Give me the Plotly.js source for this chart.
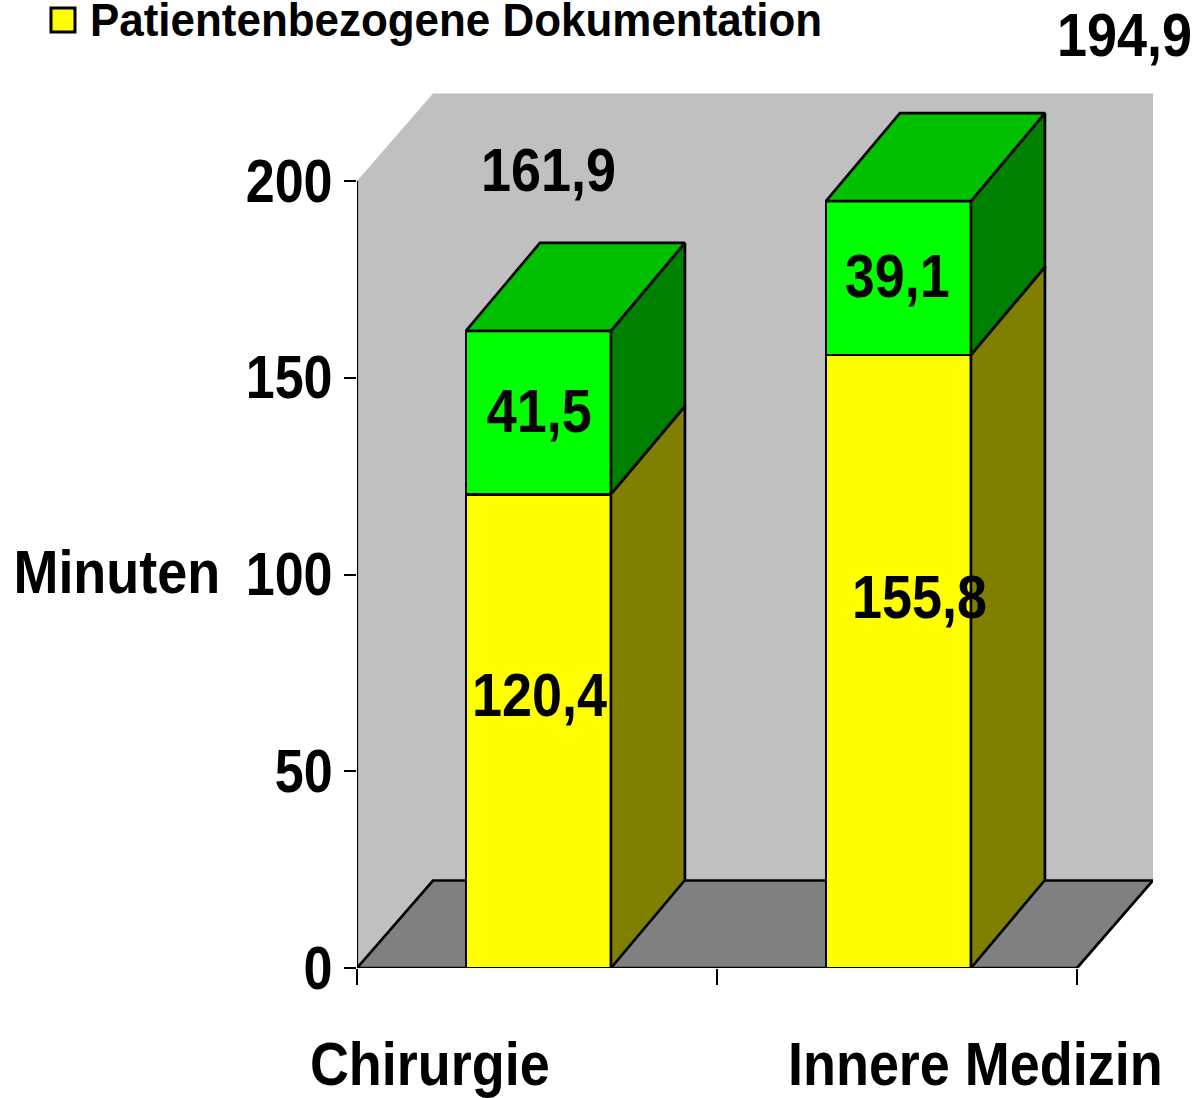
<!DOCTYPE html>
<html><head><meta charset="utf-8">
<script src="https://cdn.plot.ly/plotly-3.0.1.min.js"></script>
<style>html,body{margin:0;padding:0;background:#fff}</style>
</head><body><div id="chart" style="width:1197px;height:1098px"></div>
<script>
const categories = ["Chirurgie", "Innere Medizin"];
const patientenbezogen = [120.4, 155.8];
const andere = [41.5, 39.1];
const totals = [161.9, 194.9];
const yTicks = [0, 50, 100, 150, 200];
const legendName = "Patientenbezogene Dokumentation";
const yTitle = "Minuten";

const FONT = '"Liberation Sans",Arial,sans-serif';
const L=357,T=93,R=1153,B=968, PXX=360, PXY=787/200;
const depthX=74/PXX, depthY=88/PXY, wallX=76/PXX, wallY=87.5/PXY, barW=145/PXX, barC=[0.504,1.504];
const LW=2.7, SIZE=62;
const fmt=v=>v.toFixed(1).replace('.',',');
const px=x=>(x-L)/(R-L), py=y=>(B-y)/(B-T);
const traces=[];
function face(xs,ys,color){traces.push({type:'scatter',mode:'lines',x:xs.concat(xs[0]),y:ys.concat(ys[0]),fill:'toself',fillcolor:color,line:{color:'#000',width:LW},showlegend:false,hoverinfo:'skip',cliponaxis:false});}
traces.push({type:'bar',x:barC,y:patientenbezogen,width:barW,marker:{color:'#ffff00',line:{color:'#000',width:LW}},showlegend:false});
traces.push({type:'bar',x:barC,y:andere,width:barW,marker:{color:'#00ff00',line:{color:'#000',width:LW}},showlegend:false});
barC.forEach((c,i)=>{
  const l=c-barW/2,r=c+barW/2,a=patientenbezogen[i],t=a+andere[i];
  face([r,r+depthX,r+depthX,r],[0,depthY,a+depthY,a],'#808000');
  face([r,r+depthX,r+depthX,r],[a,a+depthY,t+depthY,t],'#008000');
  face([l,r,r+depthX,l+depthX],[t,t,t+depthY,t+depthY],'#00c000');
});
traces.push({type:'scatter',mode:'markers',x:[null],y:[null],name:legendName,marker:{symbol:'square',size:16,color:'#ffff00',line:{color:'#000',width:2}},hoverinfo:'skip',showlegend:true});

const x2=2,xB=x2+wallX,yB=200+wallY;
const shapes=[
 {type:'path',layer:'below',xref:'x',yref:'y',path:`M0,0L0,200L${wallX},${yB}L${xB},${yB}L${xB},${wallY}L${x2},0Z`,fillcolor:'#c0c0c0',line:{width:0}},
 {type:'path',layer:'below',xref:'x',yref:'y',path:`M0,0L${wallX},${wallY}L${xB},${wallY}L${x2},0Z`,fillcolor:'#808080',line:{color:'#000',width:LW}},
 {type:'line',layer:'below',xref:'x',yref:'y',x0:0,x1:0,y0:0,y1:200,line:{color:'#000',width:2.2}}
];
const ann=(text,x,y)=>({text,xref:'paper',yref:'paper',x:px(x),y:py(y),xanchor:'center',yanchor:'middle',showarrow:false,font:{family:FONT,size:SIZE,color:'#000',weight:700}});
const annotations=[
 ann(fmt(patientenbezogen[0]),540,694),ann(fmt(patientenbezogen[1]),919,596),
 ann(fmt(andere[0]),539,410),ann(fmt(andere[1]),897,275),
 ann(fmt(totals[0]),548.5,170),ann(fmt(totals[1]),1124,34),
 ann(yTitle,117,571),ann(categories[0],430,1063),ann(categories[1],975,1063)
];
Plotly.newPlot('chart',traces,{
 width:1197,height:1098,margin:{l:L,t:T,r:1197-R,b:1098-B,pad:0,autoexpand:false},
 paper_bgcolor:'#fff',plot_bgcolor:'rgba(0,0,0,0)',barmode:'stack',
 font:{family:FONT,color:'#000'},
 xaxis:{range:[0,(R-L)/PXX],tickmode:'array',tickvals:[0,1,2],showticklabels:false,ticks:'outside',ticklen:16,tickwidth:2,tickcolor:'#000',showgrid:false,zeroline:false,showline:false},
 yaxis:{range:[0,(B-T)/PXY],tickmode:'array',tickvals:yTicks,ticktext:yTicks.map(String),ticks:'outside',ticklen:12,tickwidth:2,tickcolor:'#000',tickfont:{family:FONT,size:SIZE,color:'#000',weight:700},showgrid:false,zeroline:false,showline:false},
 showlegend:true,
 legend:{x:px(43),y:py(20),xanchor:'left',yanchor:'middle',bgcolor:'rgba(0,0,0,0)',font:{family:FONT,size:46,color:'#000',weight:700},itemsizing:'trace'},
 shapes,annotations
},{displayModeBar:false,staticPlot:true}).then(()=>{
 const squeeze=(sel,k)=>document.querySelectorAll(sel).forEach(t=>{
   const w=t.getComputedTextLength();
   t.setAttribute('lengthAdjust','spacingAndGlyphs');t.setAttribute('textLength',(w*k).toFixed(1));
 });
 squeeze('.annotation-text',0.87);squeeze('.ytick text',0.84);squeeze('.legendtext',0.955);
 document.querySelectorAll('.legendtext').forEach(t=>{
   t.setAttribute('x',parseFloat(t.getAttribute('x'))+7);
   t.setAttribute('y',parseFloat(t.getAttribute('y'))-2);
 });
 document.querySelectorAll('.ytick text').forEach(t=>{
   t.setAttribute('y',parseFloat(t.getAttribute('y'))-1);
   t.setAttribute('x',parseFloat(t.getAttribute('x'))+1);
 });
 document.querySelectorAll('.legendpoints path').forEach(p=>{p.setAttribute('transform',(p.getAttribute('transform')||'')+' scale(1.5)');});
});
</script></body></html>
